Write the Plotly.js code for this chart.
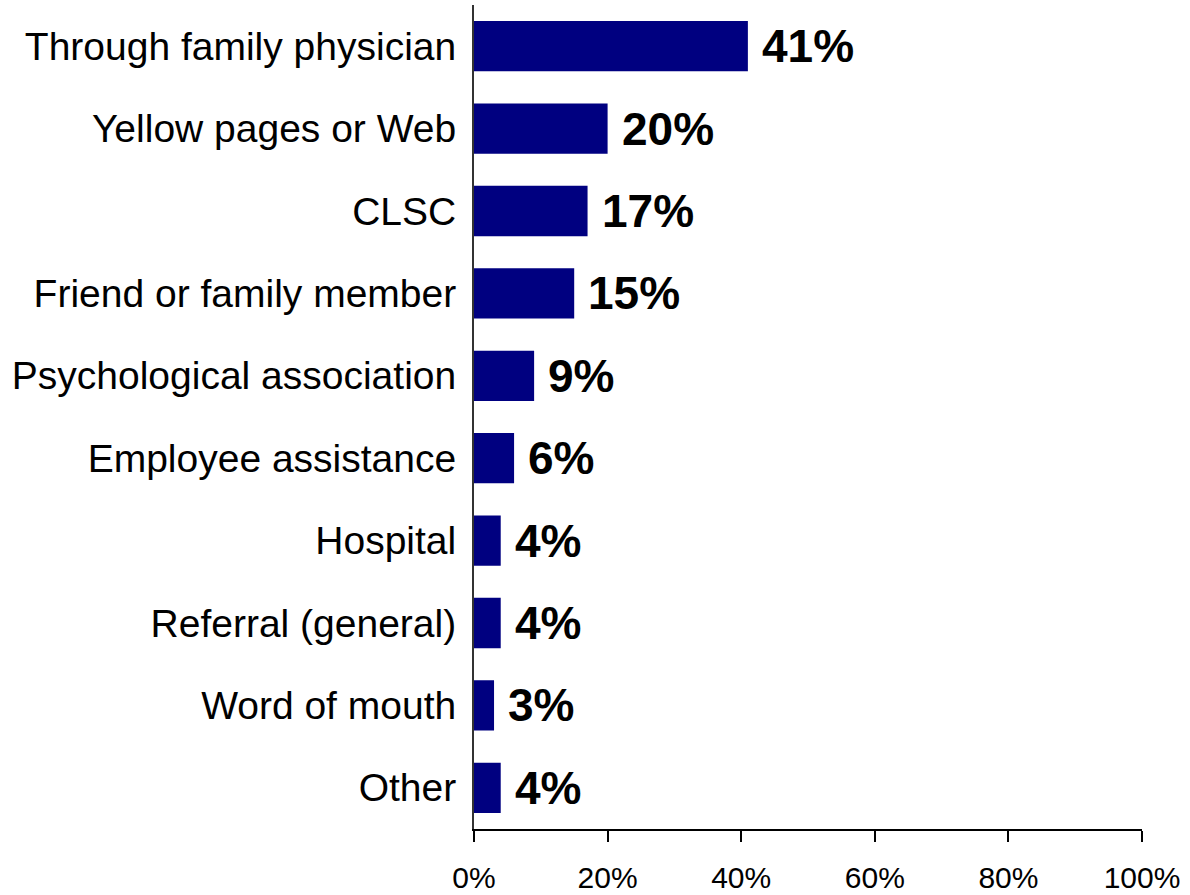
<!DOCTYPE html>
<html>
<head>
<meta charset="utf-8">
<script src="https://cdn.plot.ly/plotly-3.0.1.min.js"></script>
<style>html,body{margin:0;padding:0;background:#fff;}#chart{width:1190px;height:895px;}</style>
</head>
<body>
<div id="chart"></div>
<script>
const categories = [
  "Through family physician",
  "Yellow pages or Web",
  "CLSC",
  "Friend or family member",
  "Psychological association",
  "Employee assistance",
  "Hospital",
  "Referral (general)",
  "Word of mouth",
  "Other"
];
const values = [41, 20, 17, 15, 9, 6, 4, 4, 3, 4];
const xTickValues = [0, 20, 40, 60, 80, 100];
const xTickLabels = ["0%", "20%", "40%", "60%", "80%", "100%"];

const trace = {
  type: "bar",
  orientation: "h",
  y: categories,
  x: values,
  marker: {color: "#000080", line: {width: 0}},
  hoverinfo: "none"
};

const annotations = categories.map((c, i) => ({
  x: values[i],
  y: c,
  xref: "x",
  yref: "y",
  text: values[i] + "%",
  showarrow: false,
  xanchor: "left",
  yanchor: "middle",
  xshift: 12,
  font: {family: "Liberation Sans, Arial, sans-serif", size: 46, color: "#000", weight: "bold"}
}));

const layout = {
  width: 1190,
  height: 895,
  margin: {l: 474, r: 48, t: 5, b: 66},
  paper_bgcolor: "#fff",
  plot_bgcolor: "#fff",
  showlegend: false,
  bargap: 0.39,
  xaxis: {
    range: [0, 100],
    tickvals: xTickValues,
    ticktext: xTickLabels,
    showgrid: false,
    zeroline: false,
    showline: true,
    linecolor: "#000",
    linewidth: 2,
    ticks: "outside",
    ticklen: 11,
    tickwidth: 2,
    tickcolor: "#000",
    ticklabelstandoff: 10,
    tickfont: {family: "Liberation Sans, Arial, sans-serif", size: 30, color: "#000"},
    fixedrange: true
  },
  yaxis: {
    autorange: "reversed",
    showgrid: false,
    zeroline: false,
    showline: true,
    linecolor: "#333",
    linewidth: 2,
    ticks: "",
    ticklabelstandoff: 8,
    tickfont: {family: "Liberation Sans, Arial, sans-serif", size: 39, color: "#000"},
    fixedrange: true
  },
  annotations: annotations,
  font: {family: "Liberation Sans, Arial, sans-serif", color: "#000"}
};

Plotly.newPlot("chart", [trace], layout, {displayModeBar: false, staticPlot: true});
</script>
</body>
</html>
